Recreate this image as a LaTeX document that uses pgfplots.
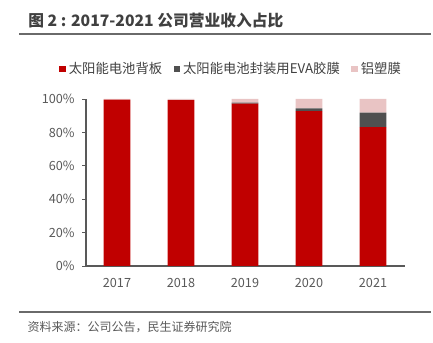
\documentclass[border=0pt]{standalone}
\usepackage{pgfplots}
\pgfplotsset{compat=1.18}
\usepackage{fontspec}
\setmainfont{Noto Sans CJK SC}
\definecolor{cred}{HTML}{C00000}
\definecolor{cdark}{HTML}{505050}
\definecolor{cpink}{HTML}{E9C4C4}
\definecolor{ctxt}{HTML}{595959}
\definecolor{ctitle}{HTML}{404040}
\begin{document}
\begin{tikzpicture}
\path[use as bounding box] (0pt,0pt) rectangle (324.75pt,257.25pt);
\node[anchor=west, inner sep=0pt, text=ctitle, font=\fontsize{11.8pt}{13pt}\selectfont\bfseries] at (21pt,241.5pt) {图 2 : 2017-2021 公司营业收入占比};
\draw[color=ctxt!90, line width=1.1pt] (14.25pt,231.75pt) -- (323.25pt,231.75pt);
\draw[color=ctxt!90, line width=1.1pt] (14.25pt,23.25pt) -- (323.25pt,23.25pt);
\node[anchor=west, inner sep=0pt, text=ctxt, font=\fontsize{9pt}{11pt}\selectfont] at (20.5pt,12pt) {资料来源：公司公告，民生证券研究院};
\begin{axis}[
  at={(64.5pt,57.75pt)}, anchor=south west,
  scale only axis, width=239.25pt, height=125.25pt,
  ybar stacked, bar width=0.42,
  xmin=-0.484, xmax=4.5, ymin=0, ymax=100,
  axis x line*=bottom, axis y line*=left,
  axis line style={-, color=ctxt, line width=0.8pt},
  xtick={0,1,2,3,4}, xticklabels={2017,2018,2019,2020,2021},
  ytick={0,20,40,60,80,100}, yticklabels={0\%,20\%,40\%,60\%,80\%,100\%},
  x tick style={draw=none},
  y tick style={color=ctxt, line width=0.6pt},
  tick align=outside, major tick length=3pt,
  ticklabel style={font=\fontsize{9.5pt}{11pt}\selectfont, text=ctxt},
  xticklabel style={yshift=-3pt},
  yticklabel style={xshift=-2pt},
  legend columns=3,
  legend style={at={(-0.0846,1.1796)}, anchor=west, draw=none, fill=none, inner sep=0pt,
    font=\fontsize{10pt}{11pt}\selectfont, text=ctitle,
    /tikz/every even column/.append style={column sep=6.5pt},
    nodes={inner xsep=2pt}},
  legend image code/.code={\fill[#1] (0pt,-2.6pt) rectangle (5.2pt,2.6pt);},
]
\addplot[fill=cred, draw=none] coordinates {(0,99.6) (1,99.4) (2,97.2) (3,92.8) (4,83.2)};
\addplot[fill=cdark, draw=none] coordinates {(0,0) (1,0) (2,0.6) (3,1.6) (4,8.6)};
\addplot[fill=cpink, draw=none] coordinates {(0,0.4) (1,0.6) (2,2.2) (3,5.6) (4,8.2)};
\legend{太阳能电池背板,太阳能电池封装用EVA胶膜,铝塑膜}
\end{axis}
\end{tikzpicture}
\end{document}
